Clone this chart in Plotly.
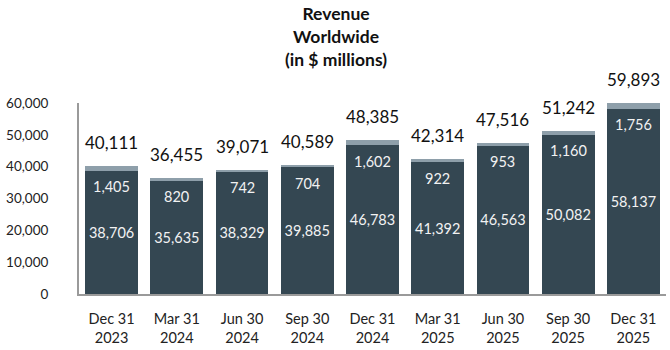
import plotly.graph_objects as go

categories = ["Dec 31<br>2023", "Mar 31<br>2024", "Jun 30<br>2024", "Sep 30<br>2024",
              "Dec 31<br>2024", "Mar 31<br>2025", "Jun 30<br>2025", "Sep 30<br>2025",
              "Dec 31<br>2025"]
core_revenue = [38706, 35635, 38329, 39885, 46783, 41392, 46563, 50082, 58137]
other_revenue = [1405, 820, 742, 704, 1602, 922, 953, 1160, 1756]
total_revenue = [40111, 36455, 39071, 40589, 48385, 42314, 47516, 51242, 59893]
y_ticks = [0, 10000, 20000, 30000, 40000, 50000, 60000]

FONT = "Lato"
DARK = "#344752"
LIGHT = "#8e9faa"

fig = go.Figure()
fig.add_trace(go.Bar(
    x=categories, y=core_revenue, marker=dict(color=DARK, line=dict(width=0)),
    text=[f"{v:,}" for v in core_revenue], textposition="inside",
    insidetextanchor="middle", textfont=dict(family=FONT, size=14.5, color="#f2f2f2"),
    textangle=0, hoverinfo="skip"))
fig.add_trace(go.Bar(
    x=categories, y=other_revenue, marker=dict(color=LIGHT, line=dict(width=0)),
    hoverinfo="skip"))

for c, d, o, t in zip(categories, core_revenue, other_revenue, total_revenue):
    fig.add_annotation(x=c, y=d, text=f"{o:,}", showarrow=False, yanchor="middle",
                       yshift=-16, font=dict(family=FONT, size=14.5, color="#f2f2f2"))
    fig.add_annotation(x=c, y=t, text=f"{t:,}", showarrow=False, yanchor="bottom",
                       yshift=11, font=dict(family=FONT, size=17, color="#111111"))

fig.add_annotation(text="<b>Revenue<br>Worldwide<br>(in $ millions)</b>", showarrow=False,
                   xref="paper", yref="paper", x=0.438, y=1.535, xanchor="center",
                   yanchor="top", align="center",
                   font=dict(family=FONT, size=17.5, color="#111111"))

fig.update_layout(
    width=670, height=350, barmode="stack", bargap=0.19, showlegend=False,
    margin=dict(l=79, r=4, t=103, b=56),
    paper_bgcolor="white", plot_bgcolor="white",
    font=dict(family=FONT, color="#222222"),
    xaxis=dict(showline=True, linecolor="#9a9a9a", linewidth=2, ticks="",
               tickfont=dict(family=FONT, size=14.5, color="#222222"),
               ticklabelstandoff=11, showgrid=False, fixedrange=True),
    yaxis=dict(range=[0, 60000], tickvals=y_ticks, tickformat=",", showline=True,
               linecolor="#9a9a9a", linewidth=2, showgrid=False, zeroline=False, ticks="",
               tickfont=dict(family=FONT, size=13.5, color="#222222"),
               ticklabelstandoff=26, fixedrange=True),
)
fig.write_html("out.html")
